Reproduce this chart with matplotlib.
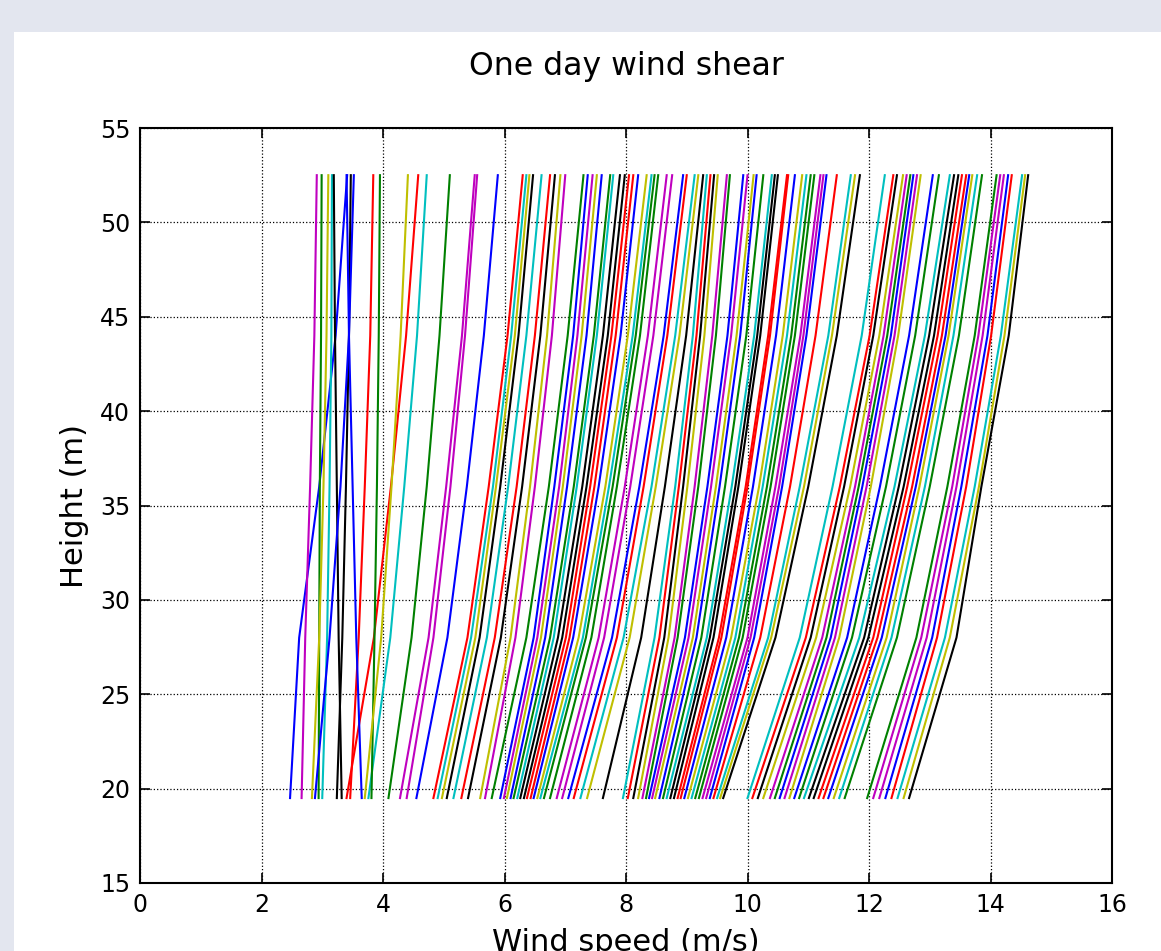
import numpy as np
import matplotlib
matplotlib.use('Agg')
import matplotlib.pyplot as plt
from matplotlib.patches import Rectangle

# measurement heights (m)
heights = [19.5, 28.0, 36.0, 44.0, 52.5]

# wind speed (m/s) at each height, one entry per 10-min profile
ws_195 = [2.47, 2.94, 3.40, 3.76, 4.39, 4.97, 5.40, 5.93, 6.15, 6.37, 6.59, 6.95, 7.36, 8.12, 8.38, 8.61, 8.85, 9.08, 9.32, 9.55, 10.17, 10.53, 10.85, 11.17, 11.51, 12.17, 12.57,
          12.66, 12.27, 11.60, 11.25, 10.93, 10.61, 10.26, 9.60, 9.38, 9.14, 8.90, 8.67, 8.43, 8.20, 7.62, 7.05, 6.65, 6.43, 6.21, 5.99, 5.60, 5.05, 4.55, 3.81, 3.46, 3.00, 2.66,
          2.83, 3.24, 3.65, 4.09, 4.83, 5.16, 5.68, 6.04, 6.26, 6.48, 6.75, 7.14, 7.95, 8.27, 8.48, 8.73, 8.96, 9.20, 9.44, 10.00, 10.37, 10.69, 11.01, 11.33, 11.97, 12.37,
          12.47, 12.07, 11.42, 11.09, 10.77, 10.45, 10.08, 9.50, 9.26, 9.02, 8.79, 8.55, 8.33, 8.03, 7.25, 6.86, 6.54, 6.32, 6.10, 5.79, 5.29, 4.90, 4.28, 3.70, 3.32, 2.88]
ws_28 = [2.62, 2.95, 3.85, 4.12, 4.83, 5.52, 5.94, 6.48, 6.75, 7.01, 7.29, 7.64, 8.06, 8.63, 8.97, 9.24, 9.53, 9.80, 10.05, 10.39, 11.04, 11.37, 11.72, 12.07, 12.37, 12.95, 13.33,
         13.44, 13.04, 12.46, 12.14, 11.84, 11.44, 11.13, 10.46, 10.11, 9.86, 9.57, 9.33, 9.03, 8.70, 8.25, 7.77, 7.34, 7.07, 6.81, 6.54, 6.10, 5.59, 5.06, 3.86, 3.60, 3.08, 2.72,
         2.95, 3.33, 3.56, 4.47, 5.39, 5.71, 6.18, 6.60, 6.88, 7.13, 7.43, 7.85, 8.47, 8.80, 9.10, 9.38, 9.65, 9.92, 10.21, 10.86, 11.23, 11.51, 11.92, 12.21, 12.78, 13.12,
         13.25, 12.86, 12.29, 11.99, 11.64, 11.30, 10.96, 10.34, 10.00, 9.73, 9.44, 9.16, 8.85, 8.55, 7.96, 7.55, 7.22, 6.95, 6.67, 6.36, 5.84, 5.45, 4.75, 3.97, 3.27, 3.12]
ws_36 = [2.95, 2.96, 4.13, 4.35, 5.11, 5.86, 6.29, 6.82, 7.14, 7.41, 7.72, 8.07, 8.49, 8.94, 9.34, 9.63, 9.97, 10.25, 10.52, 10.93, 11.59, 11.89, 12.28, 12.63, 12.92, 13.44, 13.81,
         13.85, 13.52, 13.00, 12.71, 12.42, 11.96, 11.69, 11.00, 10.57, 10.32, 10.00, 9.74, 9.40, 9.01, 8.64, 8.22, 7.78, 7.48, 7.19, 6.90, 6.42, 5.93, 5.38, 3.90, 3.70, 3.12, 2.80,
         3.02, 3.39, 3.50, 4.72, 5.74, 6.06, 6.50, 6.96, 7.28, 7.55, 7.85, 8.29, 8.81, 9.13, 9.48, 9.80, 10.09, 10.38, 10.70, 11.40, 11.77, 12.03, 12.49, 12.77, 13.29, 13.60,
         13.74, 13.37, 12.83, 12.57, 12.18, 11.83, 11.52, 10.86, 10.46, 10.19, 9.85, 9.54, 9.19, 8.87, 8.42, 7.98, 7.66, 7.35, 7.03, 6.73, 6.20, 5.81, 5.04, 4.14, 3.24, 3.30]
ws_44 = [3.22, 2.98, 4.38, 4.56, 5.35, 6.17, 6.59, 7.13, 7.47, 7.76, 8.11, 8.45, 8.88, 9.22, 9.67, 9.98, 10.34, 10.65, 10.92, 11.39, 12.07, 12.36, 12.76, 13.13, 13.39, 13.87, 14.23,
         14.30, 13.95, 13.48, 13.20, 12.92, 12.42, 12.17, 11.47, 10.97, 10.72, 10.37, 10.11, 9.73, 9.29, 8.99, 8.62, 8.16, 7.83, 7.52, 7.20, 6.70, 6.23, 5.66, 3.93, 3.79, 3.15, 2.87,
         3.07, 3.44, 3.44, 4.93, 6.05, 6.36, 6.78, 7.27, 7.62, 7.91, 8.23, 8.68, 9.10, 9.42, 9.82, 10.16, 10.47, 10.78, 11.12, 11.88, 12.24, 12.48, 12.99, 13.26, 13.74, 14.01,
         14.17, 13.80, 13.31, 13.07, 12.66, 12.30, 12.01, 11.33, 10.87, 10.58, 10.21, 9.88, 9.48, 9.16, 8.81, 8.36, 8.03, 7.70, 7.35, 7.04, 6.50, 6.11, 5.30, 4.29, 3.21, 3.44]
ws_525 = [3.41, 2.99, 4.58, 4.72, 5.55, 6.41, 6.83, 7.37, 7.74, 8.05, 8.42, 8.76, 9.19, 9.45, 9.93, 10.26, 10.65, 10.97, 11.25, 11.77, 12.46, 12.73, 13.15, 13.53, 13.78, 14.22, 14.57,
          14.62, 14.29, 13.86, 13.60, 13.33, 12.79, 12.56, 11.85, 11.30, 11.04, 10.67, 10.40, 10.00, 9.51, 9.27, 8.94, 8.47, 8.12, 7.79, 7.45, 6.92, 6.47, 5.89, 3.95, 3.84, 3.16, 2.91,
          3.10, 3.47, 3.40, 5.10, 6.30, 6.61, 7.00, 7.52, 7.90, 8.20, 8.53, 9.00, 9.33, 9.66, 10.10, 10.45, 10.78, 11.10, 11.47, 12.26, 12.62, 12.85, 13.40, 13.65, 14.10, 14.35,
          14.52, 14.16, 13.70, 13.47, 13.05, 12.68, 12.40, 11.70, 11.20, 10.90, 10.50, 10.15, 9.71, 9.39, 9.13, 8.67, 8.34, 7.98, 7.60, 7.30, 6.75, 6.36, 5.51, 4.41, 3.19, 3.52]

profiles = np.array([ws_195, ws_28, ws_36, ws_44, ws_525])

plt.rcParams['font.family'] = ['DejaVu Sans']
plt.rcParams['axes.prop_cycle'] = plt.cycler(color=['b', 'g', 'r', 'c', 'm', 'y', 'k'])

fig = plt.figure(figsize=(11.61, 9.51), dpi=100, facecolor='#e3e6ef')
fig.add_artist(Rectangle((14 / 1161, 0), 1, 1 - 32 / 951, transform=fig.transFigure,
                         facecolor='white', edgecolor='none', zorder=-10))
ax = fig.add_axes([140 / 1161, 1 - 883 / 951, 972 / 1161, 755 / 951])

for i in range(profiles.shape[1]):
    ax.plot(profiles[:, i], heights, lw=1.5)

ax.set_xlim(0, 16)
ax.set_ylim(15, 55)
ax.set_xticks(range(0, 17, 2))
ax.set_yticks(range(15, 56, 5))
ax.grid(True, color='k', linestyle=':', linewidth=0.9)
ax.tick_params(direction='in', length=7, width=1.2, labelsize=17, top=True, right=True, pad=7)
for s in ax.spines.values():
    s.set_linewidth(1.5)
ax.set_title('One day wind shear', fontsize=22.7, pad=38)
ax.set_xlabel('Wind speed (m/s)', fontsize=22, labelpad=8)
ax.set_ylabel('Height (m)', fontsize=22, labelpad=8)

plt.savefig('out.png', dpi=100, facecolor=fig.get_facecolor())
